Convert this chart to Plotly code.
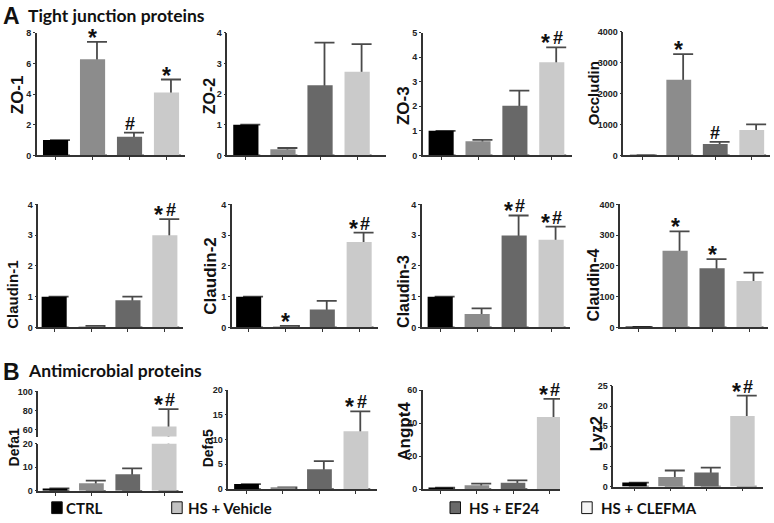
import plotly.graph_objects as go

W, H = 774, 523

# ---------------- data ----------------
groups = ["CTRL", "HS + Vehicle", "HS + EF24", "HS + CLEFMA"]
positions = [0, 1, 2, 3]
bar_colors = ["#000000", "#8c8c8c", "#686868", "#cacaca"]
legend_colors = ["#000000", "#c2c2c2", "#6a6a6a", "#f4f4f4"]

panel_names = ["ZO-1", "ZO-2", "ZO-3", "Occludin",
               "Claudin-1", "Claudin-2", "Claudin-3", "Claudin-4",
               "Defa1", "Defa5", "Angpt4", "Lyz2"]

zo1_mean = [1.0, 6.27, 1.22, 4.10]
zo1_sem = [0.0, 1.13, 0.27, 0.85]
zo1_sig = ["", "*", "#", "*"]

zo2_mean = [1.0, 0.20, 2.29, 2.73]
zo2_sem = [0.0, 0.04, 1.39, 0.90]
zo2_sig = ["", "", "", ""]

zo3_mean = [1.0, 0.58, 2.02, 3.80]
zo3_sem = [0.0, 0.05, 0.62, 0.60]
zo3_sig = ["", "", "", "*#"]

occludin_mean = [1.0, 2450, 370, 820]
occludin_sem = [0.0, 830, 65, 180]
occludin_sig = ["", "*", "#", ""]

cldn1_mean = [1.0, 0.03, 0.88, 3.00]
cldn1_sem = [0.0, 0.02, 0.12, 0.52]
cldn1_sig = ["", "", "", "*#"]

cldn2_mean = [1.0, 0.03, 0.58, 2.78]
cldn2_sem = [0.0, 0.02, 0.28, 0.30]
cldn2_sig = ["", "*", "", "*#"]

cldn3_mean = [1.0, 0.44, 2.99, 2.85]
cldn3_sem = [0.0, 0.18, 0.65, 0.43]
cldn3_sig = ["", "", "*#", "*#"]

cldn4_mean = [2.0, 249, 192, 151]
cldn4_sem = [0.0, 63, 30, 27]
cldn4_sig = ["", "*", "*", ""]

defa1_mean = [1.0, 3.2, 7.0, 63.0]
defa1_sem = [0.0, 1.1, 2.5, 18.5]
defa1_sig = ["", "", "", "*#"]

defa5_mean = [1.0, 0.2, 4.0, 11.7]
defa5_sem = [0.0, 0.15, 1.65, 4.0]
defa5_sig = ["", "", "", "*#"]

angpt4_mean = [1.0, 2.4, 3.9, 43.7]
angpt4_sem = [0.0, 1.0, 1.5, 11.0]
angpt4_sig = ["", "", "", "*#"]

lyz2_mean = [1.0, 2.4, 3.5, 17.5]
lyz2_sem = [0.0, 1.6, 1.2, 5.1]
lyz2_sig = ["", "", "", "*#"]

means = [zo1_mean, zo2_mean, zo3_mean, occludin_mean, cldn1_mean, cldn2_mean,
         cldn3_mean, cldn4_mean, defa1_mean, defa5_mean, angpt4_mean, lyz2_mean]
sems = [zo1_sem, zo2_sem, zo3_sem, occludin_sem, cldn1_sem, cldn2_sem,
        cldn3_sem, cldn4_sem, defa1_sem, defa5_sem, angpt4_sem, lyz2_sem]
sigs = [zo1_sig, zo2_sig, zo3_sig, occludin_sig, cldn1_sig, cldn2_sig,
        cldn3_sig, cldn4_sig, defa1_sig, defa5_sig, angpt4_sig, lyz2_sig]

# ---------------- layout geometry (pixels) ----------------
# x_left, x_right, y_top, y_zero, xrange, yrange, dtick, title_x, title_y, title_size
geom = [
    (36.7, 185.0, 28.3, 153.3, [-0.51, 3.5], [0, 8], 2, 17.0, 92, 17),
    (227.3, 385.7, 28.3, 153.3, [-0.5, 3.77], [0, 4], 1, 209.0, 93, 16),
    (422.7, 571.7, 28.3, 153.3, [-0.5, 3.54], [0, 5], 1, 403.0, 102, 17),
    (623.3, 770.0, 27.3, 153.3, [-0.52, 3.5], [0, 4000], 1000, 593, 90, 15),
    (38.3, 183.3, 203.3, 328.7, [-0.43, 3.5], [0, 4], 1, 12.5, 296, 15),
    (231.7, 378.3, 203.3, 328.7, [-0.46, 3.52], [0, 4], 1, 211, 277, 17),
    (421.7, 570.0, 203.3, 328.7, [-0.5, 3.51], [0, 4], 1, 403.5, 292, 16),
    (620.0, 768.3, 203.3, 328.7, [-0.49, 3.52], [0, 400], 100, 594, 286, 16),
    (38.3, 182.7, 447.3, 495.3, [-0.46, 3.51], [0, 20], 10, 14, 451, 14),
    (228.3, 376.7, 392.7, 493.5, [-0.5, 3.57], [0, 20], 5, 208, 452, 14),
    (422.7, 560.0, 392.7, 493.7, [-0.5, 3.3], [0, 60], 20, 405, 435, 17),
    (613.3, 763.3, 388.3, 491.0, [-0.59, 3.58], [0, 25], 5, 596, 437.5, 16),
]
# upper segment of the broken Defa1 axis
defa1_upper = dict(y_top=394.0, y_bottom=440.0, yrange=[52.5, 100], tickvals=[60, 80, 100])

axis_color = "#333333"
err_color = "#4a4a4a"
err_dx = 0.12
tick_font = dict(family="Liberation Sans Narrow, Arial Narrow, Liberation Sans, Arial",
                 size=9, color="#222222", weight="bold")
label_font = "Liberation Sans, Arial, sans-serif"
head_font = "Lato, Open Sans, sans-serif"


def px(x):
    return x / W


def py(y):
    return 1 - y / H


def sfx(i):
    return "" if i == 1 else str(i)


fig = go.Figure()
layout = {}
annotations = []
shapes = []


def add_bars(mean, sem, xa, ya):
    fig.add_trace(go.Bar(
        x=[p + err_dx for p in positions], y=mean, width=0.05,
        marker=dict(color="rgba(0,0,0,0)", line=dict(width=0)),
        error_y=dict(type="data", symmetric=False, array=sem, arrayminus=mean,
                     color=err_color, thickness=1.8, width=10),
        xaxis=xa, yaxis=ya, hoverinfo="skip", showlegend=False))
    fig.add_trace(go.Bar(
        x=positions, y=mean, width=0.68,
        marker=dict(color=bar_colors, line=dict(width=0)),
        xaxis=xa, yaxis=ya, hovertext=groups, showlegend=False))


def add_sig(mean, sem, sig, xa, ya):
    for p, m, s, lab in zip(positions, mean, sem, sig):
        top = m + s
        parts = []
        if lab == "*":
            parts = [("*", 0)]
        elif lab == "#":
            parts = [("#", 0)]
        elif lab == "*#":
            parts = [("*", -6), ("#", 6)]
        for ch, dx in parts:
            if ch == "*":
                annotations.append(dict(
                    x=p, y=top, xref=xa, yref=ya, text="*", showarrow=False,
                    xanchor="center", yanchor="bottom", xshift=dx, yshift=-11,
                    font=dict(family=label_font, size=23, color="#111111", weight="bold")))
            else:
                annotations.append(dict(
                    x=p, y=top, xref=xa, yref=ya, text="#", showarrow=False,
                    xanchor="center", yanchor="bottom", xshift=dx, yshift=-3,
                    font=dict(family=label_font, size=18, color="#111111", weight="bold")))


for i, (name, g, mean, sem, sig) in enumerate(zip(panel_names, geom, means, sems, sigs), start=1):
    x0, x1, yt, yz, xr, yr, dt, tx, ty, ts = g
    s = sfx(i)
    layout["xaxis" + s] = dict(
        domain=[px(x0), px(x1)], range=xr, anchor="y" + s, tickvals=positions,
        showticklabels=False, ticks="outside", ticklen=3, tickwidth=1.2, tickcolor=axis_color,
        showline=True, linecolor=axis_color, linewidth=1.5, showgrid=False, zeroline=False,
        fixedrange=True)
    layout["yaxis" + s] = dict(
        domain=[py(yz), py(yt)], range=yr, dtick=dt, tick0=0, anchor="x" + s,
        ticks="outside", ticklen=2, tickwidth=1.2, tickcolor=axis_color, tickfont=tick_font,
        showline=True, linecolor=axis_color, linewidth=1.5, showgrid=False, zeroline=False,
        fixedrange=True)
    add_bars(mean, sem, "x" + s, "y" + s)
    if name == "Defa1":
        layout["yaxis13"] = dict(
            domain=[py(defa1_upper["y_bottom"]), py(defa1_upper["y_top"])],
            range=defa1_upper["yrange"], tickvals=defa1_upper["tickvals"], anchor="x" + s,
            ticks="outside", ticklen=2, tickwidth=1.2, tickcolor=axis_color, tickfont=tick_font,
            showline=True, linecolor=axis_color, linewidth=1.5, showgrid=False, zeroline=False,
            fixedrange=True)
        add_bars(mean, sem, "x" + s, "y13")
        add_sig(mean, sem, sig, "x" + s, "y13")
    else:
        add_sig(mean, sem, sig, "x" + s, "y" + s)
    annotations.append(dict(
        x=px(tx), y=py(ty), xref="paper", yref="paper", text=name, textangle=-90,
        showarrow=False, xanchor="center", yanchor="middle",
        font=dict(family=label_font, size=ts, color="#111111", weight="bold")))

# section headings
annotations += [
    dict(x=px(1), y=py(11), xref="paper", yref="paper", text="A", showarrow=False,
         xanchor="left", yanchor="middle",
         font=dict(family=label_font, size=23, color="#111111", weight="bold")),
    dict(x=px(26), y=py(11), xref="paper", yref="paper", text="Tight junction proteins",
         showarrow=False, xanchor="left", yanchor="middle",
         font=dict(family=head_font, size=17.5, color="#111111", weight="bold")),
    dict(x=px(1), y=py(374), xref="paper", yref="paper", text="B", showarrow=False,
         xanchor="left", yanchor="middle",
         font=dict(family=label_font, size=23, color="#111111", weight="bold")),
    dict(x=px(26), y=py(373), xref="paper", yref="paper", text="Antimicrobial proteins",
         showarrow=False, xanchor="left", yanchor="middle",
         font=dict(family=head_font, size=17.5, color="#111111", weight="bold")),
]

# legend (manual, positioned like the reference)
legend_swatch_x = [51.7, 171.7, 450.0, 581.7]
legend_text_x = [64.0, 185.5, 467.0, 599.0]
for g, c, sxp, txp in zip(groups, legend_colors, legend_swatch_x, legend_text_x):
    shapes.append(dict(type="rect", xref="paper", yref="paper",
                       x0=px(sxp), x1=px(sxp + 10.5), y0=py(518.5), y1=py(506.5),
                       fillcolor=c, line=dict(color="#111111", width=1)))
    annotations.append(dict(x=px(txp), y=py(512.5), xref="paper", yref="paper", text=g,
                            showarrow=False, xanchor="left", yanchor="middle",
                            font=dict(family=head_font, size=15, color="#111111", weight="bold")))

fig.update_layout(
    width=W, height=H, margin=dict(l=0, r=0, t=0, b=0),
    paper_bgcolor="white", plot_bgcolor="white", barmode="overlay", showlegend=False,
    annotations=annotations, shapes=shapes, **layout)

fig.write_html("out.html", config={"displayModeBar": False},
               post_script="document.body.style.margin='0px';document.body.style.overflow='hidden';")
